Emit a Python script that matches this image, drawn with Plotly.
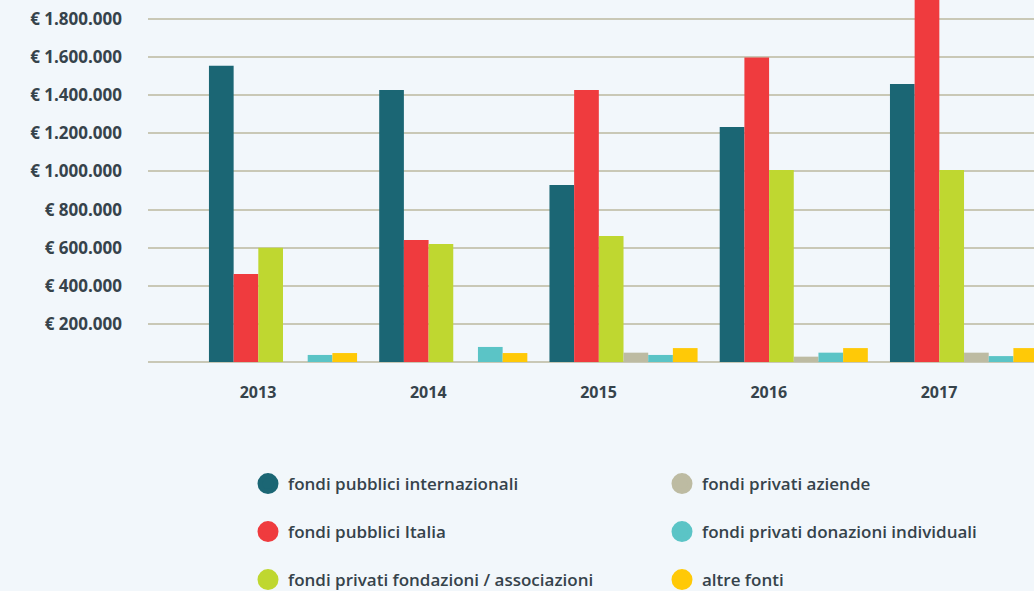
import plotly.graph_objects as go

years = ["2013", "2014", "2015", "2016", "2017"]
series_names = [
    "fondi pubblici internazionali",
    "fondi pubblici Italia",
    "fondi privati fondazioni / associazioni",
    "fondi privati aziende",
    "fondi privati donazioni individuali",
    "altre fonti",
]
pubblici_internazionali = [1555000, 1428000, 929000, 1234000, 1459000]
pubblici_italia = [462000, 640000, 1428000, 1598000, 1960000]
privati_fondazioni = [600000, 619000, 661000, 1008000, 1008000]
privati_aziende = [0, 0, 49000, 28000, 49000]
privati_donazioni = [37000, 79000, 37000, 49000, 31000]
altre_fonti = [47000, 47000, 73000, 73000, 73000]
series_values = [pubblici_internazionali, pubblici_italia, privati_fondazioni,
                 privati_aziende, privati_donazioni, altre_fonti]
colors = ["#1b6674", "#ef3b3e", "#bfd730", "#bdbba2", "#5bc4c6", "#ffc907"]

y_tick_values = [200000, 400000, 600000, 800000, 1000000, 1200000, 1400000, 1600000, 1800000]
y_tick_labels = ["€ 200.000", "€ 400.000", "€ 600.000", "€ 800.000", "€ 1.000.000",
                 "€ 1.200.000", "€ 1.400.000", "€ 1.600.000", "€ 1.800.000"]

bg = "#f2f7fb"
text_color = "#36434b"
font_family = "Open Sans"

x_pos = list(range(len(years)))
label_offset = -0.147

fig = go.Figure()
for name, vals, col in zip(series_names, series_values, colors):
    fig.add_trace(go.Bar(x=x_pos, y=vals, name=name, marker_color=col,
                         marker_line_width=0, showlegend=False))

# legend entries (circle markers), arranged in three rows of two
legend_rows = [[0, 3], [1, 4], [2, 5]]
legend_ids = ["legend", "legend2", "legend3"]
for lid, row in zip(legend_ids, legend_rows):
    for idx in row:
        fig.add_trace(go.Scatter(x=[None], y=[None], mode="markers",
                                 name=series_names[idx],
                                 marker=dict(size=16, color=colors[idx],
                                             line=dict(width=5, color=colors[idx])),
                                 legend=lid, showlegend=True))

row_y = [484, 532, 580]
legend_common = dict(orientation="h", xref="container", yref="container",
                     xanchor="left", yanchor="middle", entrywidth=369,
                     entrywidthmode="pixels", bgcolor="rgba(0,0,0,0)",
                     font=dict(family=font_family, size=17, color=text_color, weight=600),
                     itemclick=False, itemdoubleclick=False)
W, H = 1034, 591
legend_layouts = {}
for lid, yy in zip(legend_ids, row_y):
    legend_layouts[lid] = dict(legend_common, x=248 / W, y=1 - yy / H)

fig.update_layout(
    width=W, height=H,
    margin=dict(l=148, r=0, t=0, b=H - 362),
    paper_bgcolor=bg, plot_bgcolor=bg,
    barmode="group", bargap=0.13, bargroupgap=0,
    font=dict(family=font_family, color=text_color),
    **legend_layouts,
)
fig.update_xaxes(range=[-0.793, 4.411], tickvals=[p + label_offset for p in x_pos],
                 ticktext=years, showgrid=False, zeroline=False, showline=False,
                 ticks="outside", ticklen=16, tickcolor="rgba(0,0,0,0)",
                 tickfont=dict(family=font_family, size=16, color=text_color, weight=700))
fig.update_yaxes(range=[0, 1900000], tickvals=y_tick_values, ticktext=y_tick_labels,
                 showgrid=True, gridcolor="#c9c8b6", gridwidth=2,
                 zeroline=True, zerolinecolor="#c9c8b6", zerolinewidth=2,
                 showline=False, ticklabelstandoff=25,
                 tickfont=dict(family=font_family, size=17, color=text_color, weight=700))

fig.write_html("out.html")
